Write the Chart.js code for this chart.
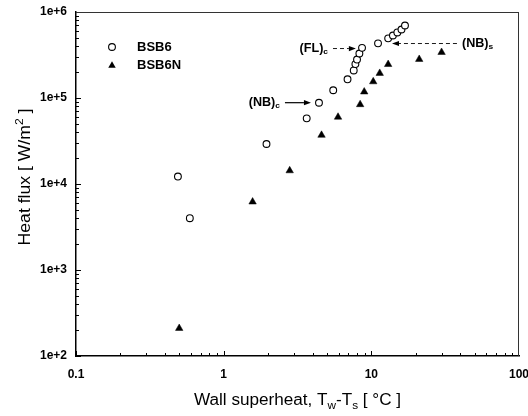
<!DOCTYPE html>
<html lang="en">
<head>
<meta charset="UTF-8">
<title>Heat flux vs wall superheat</title>
<script src="https://cdn.jsdelivr.net/npm/chart.js"></script>
<style>
  body { margin: 0; background: #fff; }
  .chart-box { width: 528px; height: 416px; }
</style>
</head>
<body>
<div class="chart-box"><canvas id="fluxChart" width="528" height="416"></canvas></div>
<script>
// BSB6 (open circles)
const bsb6X = [0.49, 0.59, 1.95, 3.65, 4.42, 5.52, 6.9, 7.6, 7.8, 8.0, 8.3, 8.65, 11.1, 13.0, 14.0, 15.0, 16.0, 16.9];
const bsb6Y = [12200, 4000, 29200, 58000, 88000, 123000, 165000, 209000, 248000, 280000, 329000, 383000, 432000, 494000, 533000, 578000, 626000, 697000];
// BSB6N (filled triangles)
const bsb6nX = [0.5, 1.57, 2.8, 4.6, 5.95, 8.4, 8.95, 10.3, 11.4, 13.0, 21.1, 29.9];
const bsb6nY = [210, 6200, 14300, 37000, 60000, 84000, 118000, 155000, 194000, 246000, 282000, 340000];

const xTickValues = [0.1, 1, 10, 100];
const xTickLabels = ['0.1', '1', '10', '100'];
const yTickValues = [1e2, 1e3, 1e4, 1e5, 1e6];
const yTickLabels = ['1e+2', '1e+3', '1e+4', '1e+5', '1e+6'];

// arrows: tip / tail in data units
const notes = [
  { name: 'NB', sub: 'c', tip: [3.9, 88200], tail: [2.6, 88200], dashed: false, side: 'left' },
  { name: 'FL', sub: 'c', tip: [7.86, 376000], tail: [5.5, 376000], dashed: true, side: 'left' },
  { name: 'NB', sub: 's', tip: [13.8, 430000], tail: [38, 430000], dashed: true, side: 'right' }
];

const FONT = "'Liberation Sans', Arial, sans-serif";

function toPoints(xs, ys) {
  return xs.map((v, i) => ({ x: v, y: ys[i] }));
}

// text pieces with sub/superscripts; stretch widens glyphs a bit like the scan
function richText(ctx, parts, x, y, size, weight, align, stretch) {
  stretch = stretch || 1;
  const small = Math.round(size * 0.68);
  let total = 0;
  parts.forEach(p => {
    ctx.font = weight + ' ' + (p.sub || p.sup ? small : size) + 'px ' + FONT;
    p.w = ctx.measureText(p.t).width;
    total += p.w;
  });
  const start = align === 'right' ? x - total * stretch : align === 'left' ? x : x - total * stretch / 2;
  ctx.save();
  ctx.translate(start, y);
  ctx.scale(stretch, 1);
  ctx.textBaseline = 'middle';
  ctx.textAlign = 'left';
  let cx = 0;
  parts.forEach(p => {
    ctx.font = weight + ' ' + (p.sub || p.sup ? small : size) + 'px ' + FONT;
    const dy = p.sub ? size * 0.3 : p.sup ? -size * 0.35 : 0;
    ctx.fillText(p.t, cx, dy);
    cx += p.w;
  });
  ctx.restore();
}

function arrow(ctx, x1, y1, x2, y2, dashed) {
  const ang = Math.atan2(y2 - y1, x2 - x1);
  const head = 7;
  ctx.save();
  ctx.strokeStyle = '#000';
  ctx.fillStyle = '#000';
  ctx.lineWidth = dashed ? 0.9 : 1.2;
  ctx.setLineDash(dashed ? [4, 3] : []);
  ctx.beginPath();
  ctx.moveTo(x1, y1);
  ctx.lineTo(x2 - Math.cos(ang) * head, y2 - Math.sin(ang) * head);
  ctx.stroke();
  ctx.setLineDash([]);
  ctx.beginPath();
  ctx.moveTo(x2, y2);
  ctx.lineTo(x2 - Math.cos(ang) * head - Math.sin(ang) * 2.6, y2 - Math.sin(ang) * head + Math.cos(ang) * 2.6);
  ctx.lineTo(x2 - Math.cos(ang) * head + Math.sin(ang) * 2.6, y2 - Math.sin(ang) * head - Math.cos(ang) * 2.6);
  ctx.closePath();
  ctx.fill();
  ctx.restore();
}

const decor = {
  id: 'decor',
  afterDraw(chart) {
    const { ctx, chartArea: a, scales: { x, y } } = chart;
    ctx.save();

    // top / right frame
    ctx.strokeStyle = '#333';
    ctx.lineWidth = 1;
    ctx.beginPath();
    ctx.moveTo(a.left, a.top + 0.5);
    ctx.lineTo(a.right, a.top + 0.5);
    ctx.moveTo(a.right - 0.5, a.top);
    ctx.lineTo(a.right - 0.5, a.bottom);
    ctx.stroke();

    // inward log ticks
    ctx.strokeStyle = '#000';
    ctx.beginPath();
    for (let e = Math.round(Math.log10(x.min)); e < Math.round(Math.log10(x.max)); e++) {
      for (let m = 1; m < 10; m++) {
        const px = Math.round(x.getPixelForValue(m * Math.pow(10, e))) + 0.5;
        const len = m === 1 ? 5 : 3;
        ctx.moveTo(px, a.bottom);
        ctx.lineTo(px, a.bottom - len);
      }
    }
    for (let e = Math.round(Math.log10(y.min)); e < Math.round(Math.log10(y.max)); e++) {
      for (let m = 1; m < 10; m++) {
        const py = Math.round(y.getPixelForValue(m * Math.pow(10, e))) + 0.5;
        const len = m === 1 ? 5 : 3;
        ctx.moveTo(a.left, py);
        ctx.lineTo(a.left + len, py);
      }
    }
    ctx.stroke();

    // legend
    const lx = a.left + 36, ly = a.top + 35;
    ctx.fillStyle = '#fff';
    ctx.lineWidth = 1.1;
    ctx.beginPath();
    ctx.arc(lx, ly, 3.4, 0, Math.PI * 2);
    ctx.fill();
    ctx.stroke();
    ctx.fillStyle = '#000';
    ctx.beginPath();
    const tr = 4.3, ty = ly + 18.5;
    ctx.moveTo(lx, ty - tr);
    ctx.lineTo(lx + tr * 0.866, ty + tr / 2);
    ctx.lineTo(lx - tr * 0.866, ty + tr / 2);
    ctx.closePath();
    ctx.fill();
    ctx.font = 'bold 13px ' + FONT;
    ctx.textBaseline = 'middle';
    ctx.textAlign = 'left';
    ctx.fillText(chart.data.datasets[0].label, lx + 25, ly);
    ctx.fillText(chart.data.datasets[1].label, lx + 25, ly + 18);

    // annotations
    notes.forEach(n => {
      const tx = x.getPixelForValue(n.tip[0]), tyy = y.getPixelForValue(n.tip[1]);
      const sx = x.getPixelForValue(n.tail[0]), sy = y.getPixelForValue(n.tail[1]);
      arrow(ctx, sx, sy, tx, tyy, n.dashed);
      ctx.fillStyle = '#000';
      const parts = [{ t: '(' + n.name + ')' }, { t: n.sub, sub: true }];
      if (n.side === 'left') richText(ctx, parts, sx - 5, sy, 12, 'bold', 'right', 1.05);
      else richText(ctx, parts, sx + 5, sy, 12, 'bold', 'left', 1.05);
    });

    // axis titles
    ctx.fillStyle = '#000';
    richText(ctx, [
      { t: 'Wall superheat, T' }, { t: 'w', sub: true }, { t: '-T' }, { t: 's', sub: true }, { t: ' [ °C ]' }
    ], (a.left + a.right) / 2, a.bottom + 45, 16, 'normal', 'center', 1.07);

    ctx.save();
    ctx.translate(26, (a.top + a.bottom) / 2 - 7);
    ctx.rotate(-Math.PI / 2);
    richText(ctx, [{ t: 'Heat flux [ W/m' }, { t: '2', sup: true }, { t: ' ]' }], 0, 0, 16, 'normal', 'center', 1.1);
    ctx.restore();

    ctx.restore();
  }
};

const tickFont = { family: FONT, size: 12, weight: 'bold' };

new Chart(document.getElementById('fluxChart'), {
  type: 'scatter',
  data: {
    datasets: [
      {
        label: 'BSB6',
        data: toPoints(bsb6X, bsb6Y),
        pointStyle: 'circle',
        pointRadius: 3.4,
        pointBorderWidth: 1.1,
        borderColor: '#000',
        backgroundColor: '#fff'
      },
      {
        label: 'BSB6N',
        data: toPoints(bsb6nX, bsb6nY),
        pointStyle: 'triangle',
        pointRadius: 4.3,
        pointBorderWidth: 0.5,
        borderColor: '#000',
        backgroundColor: '#000'
      }
    ]
  },
  options: {
    responsive: false,
    animation: false,
    layout: { padding: { left: 0, right: 9, top: 12, bottom: 0 } },
    plugins: { legend: { display: false }, tooltip: { enabled: false } },
    scales: {
      x: {
        type: 'logarithmic',
        min: 0.1,
        max: 100,
        afterBuildTicks: s => { s.ticks = xTickValues.map(v => ({ value: v })); },
        afterFit: s => { s.height = 60; s.paddingLeft = 0; s.paddingRight = 0; },
        ticks: {
          autoSkip: false,
          maxRotation: 0,
          padding: 11,
          color: '#000',
          font: tickFont,
          callback: v => xTickLabels[xTickValues.indexOf(v)]
        },
        grid: { display: false, drawTicks: false },
        border: { display: true, color: '#000', width: 1.5 }
      },
      y: {
        type: 'logarithmic',
        min: 1e2,
        max: 1e6,
        afterBuildTicks: s => { s.ticks = yTickValues.map(v => ({ value: v })); },
        afterFit: s => { s.width = 76; s.paddingTop = 0; s.paddingBottom = 0; },
        ticks: {
          autoSkip: false,
          padding: 9,
          color: '#000',
          font: tickFont,
          callback: v => yTickLabels[yTickValues.indexOf(v)]
        },
        grid: { display: false, drawTicks: false },
        border: { display: true, color: '#000', width: 1.5 }
      }
    }
  },
  plugins: [decor]
});
</script>
</body>
</html>
